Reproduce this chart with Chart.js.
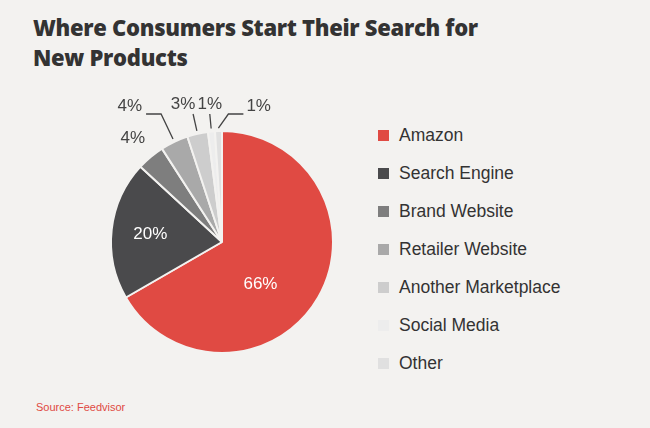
<!DOCTYPE html>
<html>
<head>
<meta charset="utf-8">
<script src="https://cdn.jsdelivr.net/npm/chart.js@4/dist/chart.umd.min.js"></script>
<style>
  body { margin: 0; background: #f3f2f0; font-family: "Liberation Sans", Arial, sans-serif; }
  #wrap { position: relative; width: 650px; height: 428px; overflow: hidden; }
  h1 { position: absolute; left: 33px; top: 12px; margin: 0; font-family: "Open Sans", sans-serif; font-weight: 800;
       font-size: 22px; line-height: 30px; color: #333; letter-spacing: -0.3px; }
  #pie { position: absolute; left: 72px; top: 92px; width: 300px; height: 300px; }
  #legend { position: absolute; left: 378px; top: 116px; }
  .legend-item { display: flex; align-items: center; height: 38px; font-size: 17.5px; color: #333; }
  .legend-color { width: 11px; height: 11px; margin-right: 10px; }
  #source { position: absolute; left: 36px; top: 401px; font-size: 11px; color: #e04a43; }
</style>
</head>
<body>
<div id="wrap">
  <h1>Where Consumers Start Their Search for<br>New Products</h1>
  <div id="pie"><canvas id="chart"></canvas></div>
  <div id="legend"></div>
  <div id="source">Source: Feedvisor</div>
</div>
<script>
const labels = ["Amazon", "Search Engine", "Brand Website", "Retailer Website", "Another Marketplace", "Social Media", "Other"];
const values = [66, 20, 4, 4, 3, 1, 1];
const colors = ["#e04a43", "#4a4a4c", "#7e7e7e", "#a9a9a9", "#cdcdcd", "#ededed", "#e0e0e0"];
// how each percentage label is placed
const labelStyle = ["inside", "inside", "outside", "left", "above", "above", "right"];

const sliceLabels = {
    id: "sliceLabels",
    afterDatasetsDraw(chart) {
        const ctx = chart.ctx;
        const arcs = chart.getDatasetMeta(0).data;
        ctx.save();
        ctx.font = "17px 'Liberation Sans', Arial, sans-serif";
        ctx.strokeStyle = "#444";
        ctx.lineWidth = 1.3;
        arcs.forEach((arc, i) => {
            const cx = arc.x, cy = arc.y, r = arc.outerRadius;
            const mid = (arc.startAngle + arc.endAngle) / 2;
            const text = values[i] + "%";
            const style = labelStyle[i];
            ctx.fillStyle = "#444";
            ctx.textBaseline = "middle";
            if (style === "inside") {
                ctx.fillStyle = "#fff";
                ctx.textAlign = "center";
                const d = i === 0 ? 0.4 : 0.65;
                ctx.fillText(text, cx + Math.cos(mid) * r * d, cy + Math.sin(mid) * r * d + (i === 0 ? 20 : 0));
                return;
            }
            if (style === "outside") {
                ctx.textAlign = "center";
                ctx.fillText(text, cx + Math.cos(mid) * r * 1.25, cy + Math.sin(mid) * r * 1.22);
                return;
            }
            const ex = cx + Math.cos(mid) * (r + 3), ey = cy + Math.sin(mid) * (r + 3);
            const lineY = cy - r - 17;
            let elbowX = ex + (lineY - ey) / Math.tan(mid);
            if (style === "right") elbowX = ex + 10;
            ctx.beginPath();
            ctx.moveTo(ex, ey);
            ctx.lineTo(elbowX, lineY);
            if (style === "left") {
                ctx.lineTo(elbowX - 15, lineY);
                ctx.stroke();
                ctx.textAlign = "right";
                ctx.fillText(text, elbowX - 19, lineY - 8);
            } else if (style === "right") {
                ctx.lineTo(elbowX + 15, lineY);
                ctx.stroke();
                ctx.textAlign = "left";
                ctx.fillText(text, elbowX + 18, lineY - 8);
            } else {
                ctx.stroke();
                ctx.textAlign = "center";
                ctx.fillText(text, elbowX - (i === 4 ? 10 : 0), lineY - 10);
            }
        });
        ctx.restore();
    },
};

new Chart(document.getElementById("chart"), {
    type: "pie",
    data: {
        labels: labels,
        datasets: [{ data: values, backgroundColor: colors, borderColor: "#f3f2f0", borderWidth: 2 }],
    },
    options: {
        responsive: true,
        maintainAspectRatio: false,
        animation: false,
        layout: { padding: 38 },
        plugins: { legend: { display: false }, tooltip: { enabled: false } },
    },
    plugins: [sliceLabels],
});

const legend = document.getElementById("legend");
labels.forEach((name, i) => {
    const item = document.createElement("div");
    item.className = "legend-item";
    const box = document.createElement("div");
    box.className = "legend-color";
    box.style.backgroundColor = colors[i];
    const label = document.createElement("div");
    label.textContent = name;
    item.appendChild(box);
    item.appendChild(label);
    legend.appendChild(item);
});
</script>
</body>
</html>
